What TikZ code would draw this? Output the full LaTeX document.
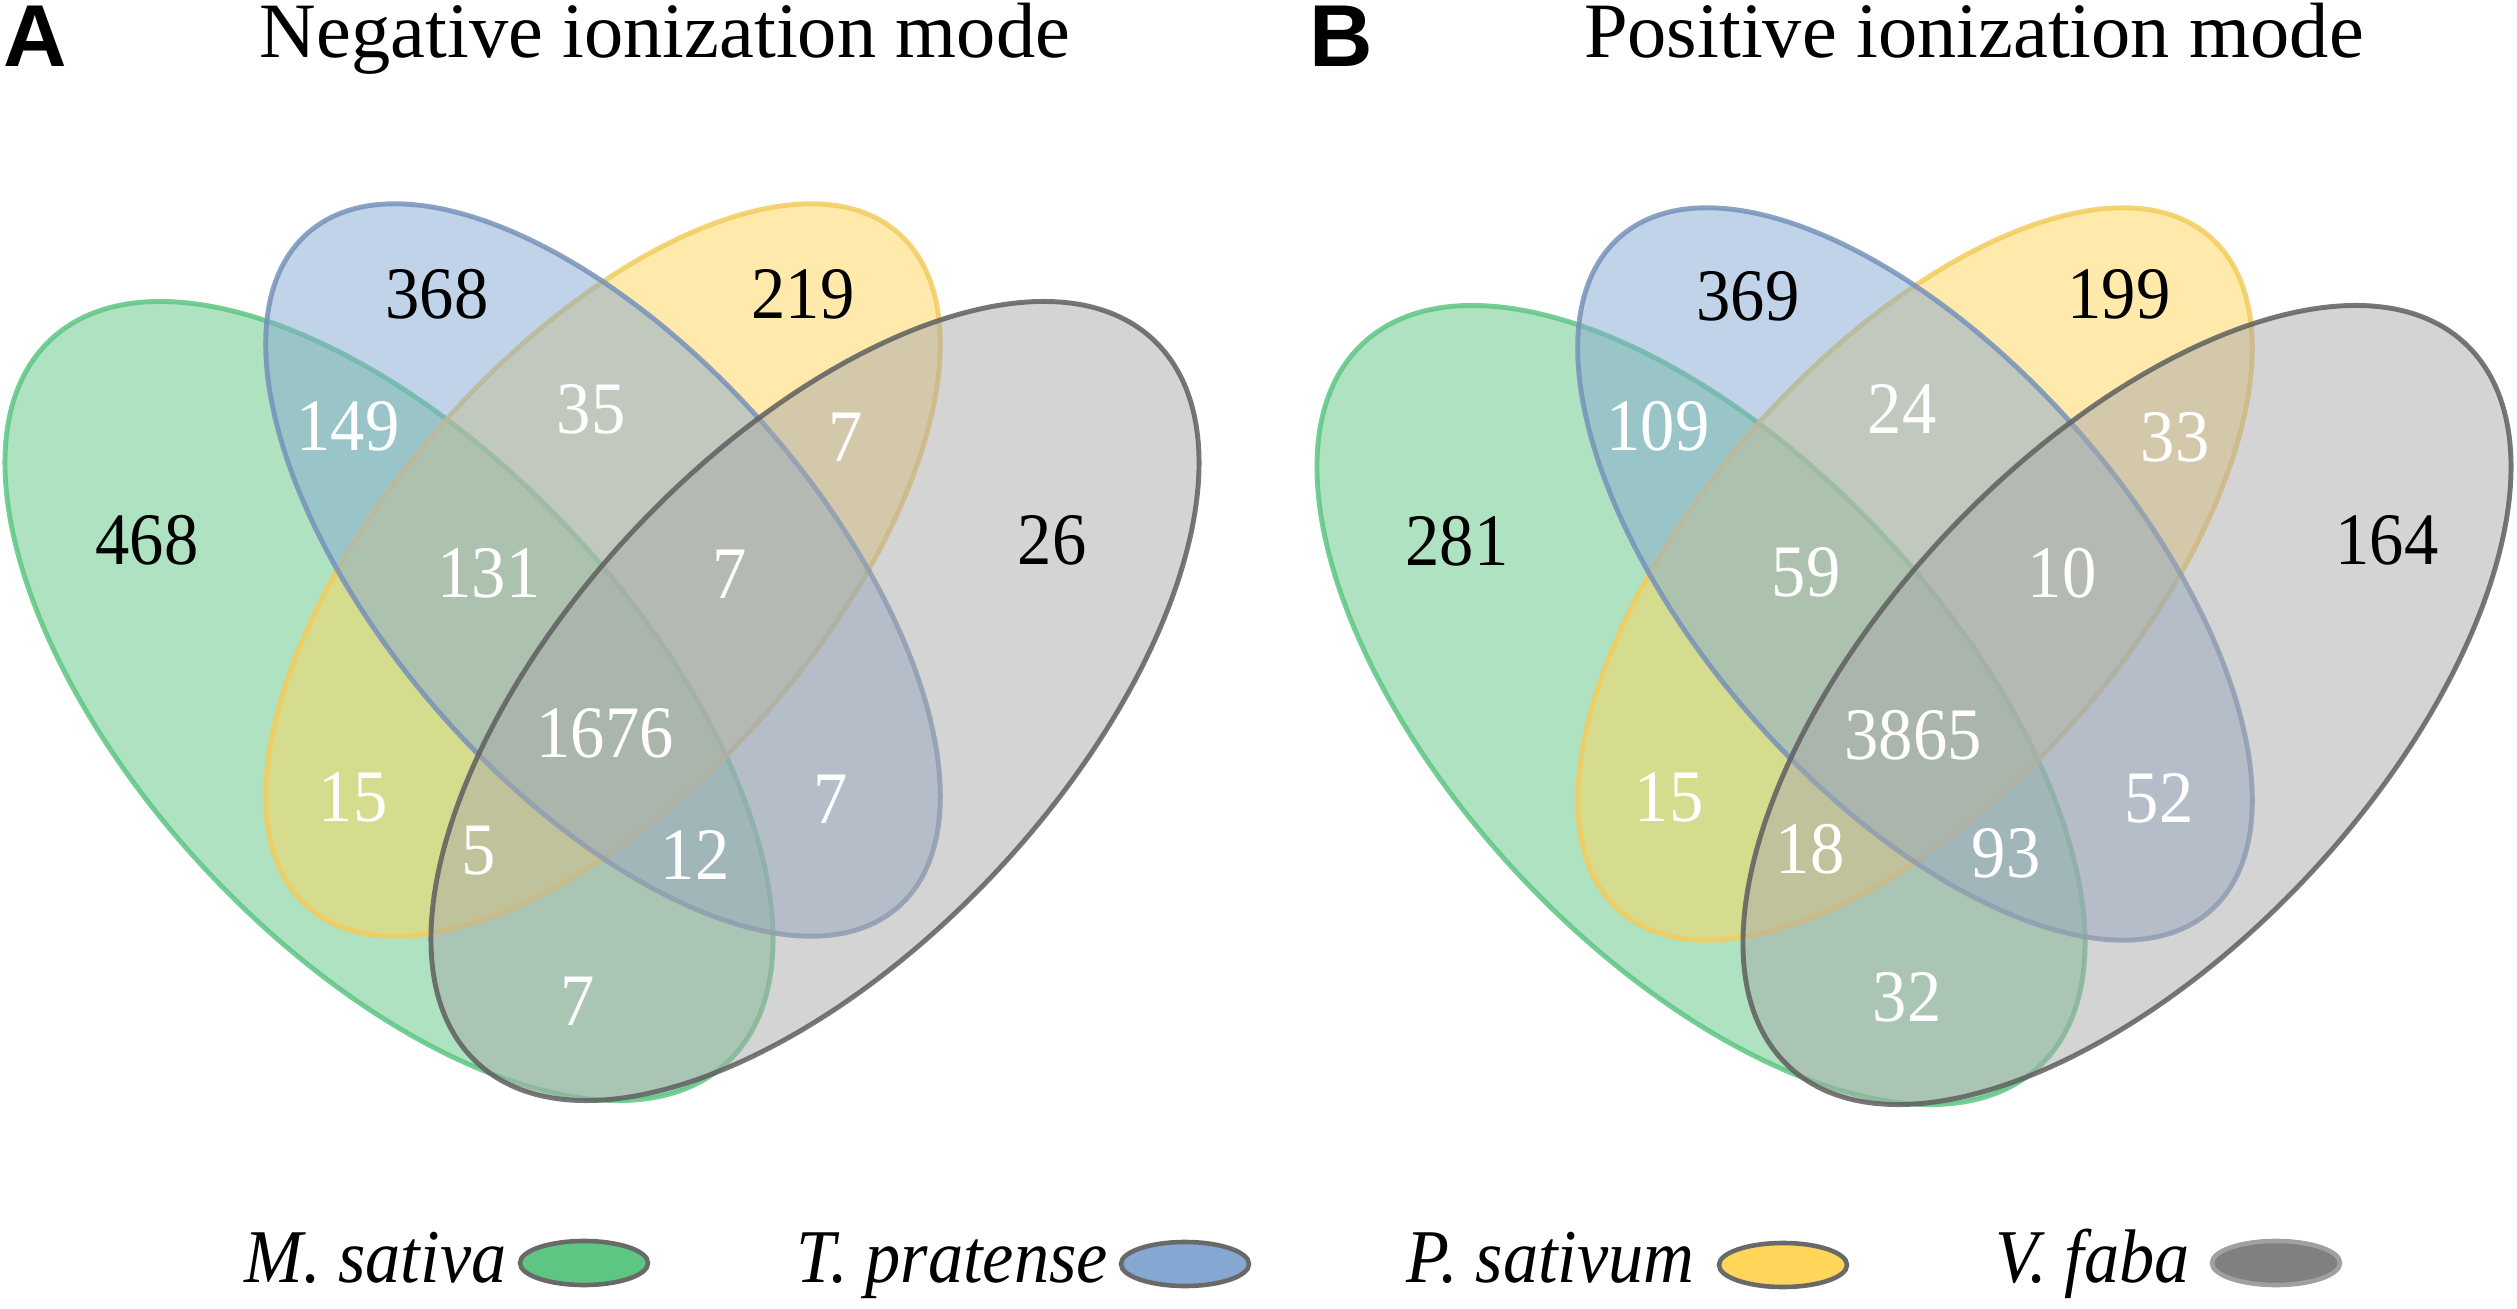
\documentclass[tikz,border=0pt]{standalone}
\usepackage{graphicx}
\usepackage{fontspec}
\setmainfont{Liberation Serif}
\newfontfamily\numfont{Liberation Serif}
\newfontfamily\panelfont{Liberation Sans}
\definecolor{cgreen}{RGB}{93,198,131}
\definecolor{cblue}{RGB}{132,168,210}
\definecolor{cyellow}{RGB}{255,213,90}
\definecolor{cgray}{RGB}{169,169,169}
\definecolor{dgreen}{RGB}{93,198,131}
\definecolor{dblue}{RGB}{118,146,186}
\definecolor{dyellow}{RGB}{242,204,94}
\definecolor{dgray}{RGB}{95,95,95}
\definecolor{lgray}{RGB}{128,128,128}
\definecolor{lborder}{RGB}{105,105,105}
\definecolor{lborderb}{RGB}{160,160,160}
\newcommand\vstr[1]{\scalebox{1}[1.08]{#1}}
\begin{document}
\begin{tikzpicture}[x=0.01cm,y=0.01cm,
  vennset/.style={line width=1.4pt, fill opacity=0.5, draw opacity=0.85},
  num/.style={font=\numfont\fontsize{19.5}{20}\selectfont, inner sep=0pt, text=black},
  wnum/.style={num, text=white},
  title/.style={font=\numfont\fontsize{22.3}{24}\selectfont, inner sep=0pt, anchor=base},
  panel/.style={font=\panelfont\bfseries\fontsize{25}{26}\selectfont, inner sep=0pt, anchor=base},
  legtext/.style={font=\numfont\itshape\fontsize{20}{22}\selectfont, inner sep=0pt, anchor=base west},
  legell/.style={line width=1.3pt, draw=lborder}
]
\useasboundingbox (0,0) rectangle (2517,1308);

% ---------- Panel A ----------
\begin{scope}
  \draw[vennset, fill=cgreen, draw=dgreen, rotate around={-46.9:(389,607)}] (389,607) ellipse [x radius=495, y radius=249];
  \draw[vennset, fill=cyellow, draw=dyellow, rotate around={48.8:(603,738)}] (603,738) ellipse [x radius=448, y radius=217];
  \draw[vennset, fill=cblue, draw=dblue, rotate around={-48.8:(603,738)}] (603,738) ellipse [x radius=448, y radius=217];
  \draw[vennset, fill=cgray, draw=dgray, rotate around={46.9:(815,607)}] (815,607) ellipse [x radius=495, y radius=249];
\end{scope}

% ---------- Panel B ----------
\begin{scope}[shift={(1312,-4)}]
  \draw[vennset, fill=cgreen, draw=dgreen, rotate around={-46.9:(389,607)}] (389,607) ellipse [x radius=495, y radius=249];
  \draw[vennset, fill=cyellow, draw=dyellow, rotate around={48.8:(603,738)}] (603,738) ellipse [x radius=448, y radius=217];
  \draw[vennset, fill=cblue, draw=dblue, rotate around={-48.8:(603,738)}] (603,738) ellipse [x radius=448, y radius=217];
  \draw[vennset, fill=cgray, draw=dgray, rotate around={46.9:(815,607)}] (815,607) ellipse [x radius=495, y radius=249];
\end{scope}

% ---------- Titles ----------
\node[panel] (pa) at (35,1241) {A};
\node[panel] (pb) at (1341,1241) {B};
\node[title] (ta) at (665,1250) {Negative ionization mode};
\node[title] (tb) at (1974,1250) {Positive ionization mode};

% ---------- Numbers A ----------
\node[num]  (a368)  at (437,1014) {\vstr{368}};
\node[num]  (a219)  at (803,1014) {\vstr{219}};
\node[num]  (a468)  at (147,768)  {\vstr{468}};
\node[num]  (a26)   at (1052,768) {\vstr{26}};
\node[wnum] (a149)  at (348,882)  {\vstr{149}};
\node[wnum] (a35)   at (591,899)  {\vstr{35}};
\node[wnum] (a7a)   at (846,871)  {\vstr{7}};
\node[wnum] (a131)  at (489,735)  {\vstr{131}};
\node[wnum] (a7b)   at (730,734)  {\vstr{7}};
\node[wnum] (a1676) at (605,575)  {\vstr{1676}};
\node[wnum] (a15)   at (353,511)  {\vstr{15}};
\node[wnum] (a7c)   at (831,509)  {\vstr{7}};
\node[wnum] (a5)    at (479,457)  {\vstr{5}};
\node[wnum] (a12)   at (695,453)  {\vstr{12}};
\node[wnum] (a7d)   at (578,307)  {\vstr{7}};

% ---------- Numbers B ----------
\node[num]  (b369)  at (1748,1012) {\vstr{369}};
\node[num]  (b199)  at (2119,1014) {\vstr{199}};
\node[num]  (b281)  at (1457,767)  {\vstr{281}};
\node[num]  (b164)  at (2387,768)  {\vstr{164}};
\node[wnum] (b109)  at (1658,882)  {\vstr{109}};
\node[wnum] (b24)   at (1902,899)  {\vstr{24}};
\node[wnum] (b33)   at (2175,871)  {\vstr{33}};
\node[wnum] (b59)   at (1806,736)  {\vstr{59}};
\node[wnum] (b10)   at (2062,735)  {\vstr{10}};
\node[wnum] (b3865) at (1913,573)  {\vstr{3865}};
\node[wnum] (b15)   at (1669,511)  {\vstr{15}};
\node[wnum] (b52)   at (2159,510)  {\vstr{52}};
\node[wnum] (b18)   at (1810,459)  {\vstr{18}};
\node[wnum] (b93)   at (2006,455)  {\vstr{93}};
\node[wnum] (b32)   at (1907,311)  {\vstr{32}};

% ---------- Legend ----------
\node[legtext] (lm) at (244,26)  {\vstr{M. sativa}};
\draw[legell, fill=cgreen] (584,45) ellipse [x radius=64, y radius=22];
\node[legtext] (lt) at (796,26)  {\vstr{T. pratense}};
\draw[legell, fill=cblue] (1185,44) ellipse [x radius=64, y radius=22];
\node[legtext] (lp) at (1406,26) {\vstr{P. sativum}};
\draw[legell, fill=cyellow] (1783,43) ellipse [x radius=64, y radius=22];
\node[legtext] (lv) at (1995,26) {\vstr{V. faba}};
\draw[legell, fill=lgray, draw=lborderb] (2276,45) ellipse [x radius=64, y radius=22];
\end{tikzpicture}
\end{document}
